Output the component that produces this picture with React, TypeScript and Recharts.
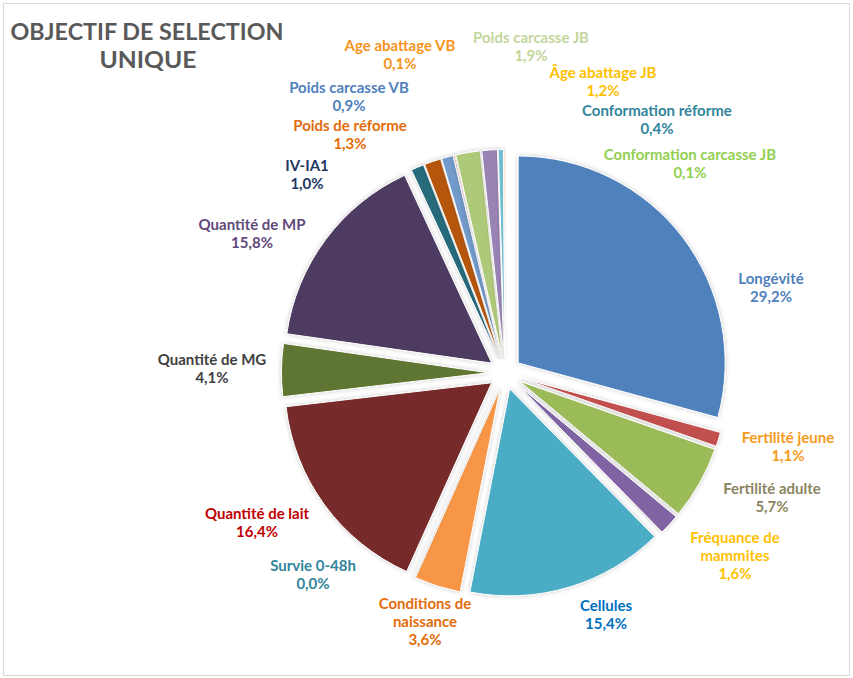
import React from 'react';
import { PieChart, Pie, Cell, Sector } from 'recharts';

// slices, clockwise from 12 o'clock
const categories = [
  'Longévité', 'Fertilité jeune', 'Fertilité adulte', 'Fréquance de mammites', 'Cellules',
  'Conditions de naissance', 'Survie 0-48h', 'Quantité de lait', 'Quantité de MG', 'Quantité de MP',
  'IV-IA1', 'Poids de réforme', 'Poids carcasse VB', 'Age abattage VB', 'Poids carcasse JB',
  'Âge abattage JB', 'Conformation réforme', 'Conformation carcasse JB',
];
const shares = [29.2, 1.1, 5.7, 1.6, 15.4, 3.6, 0.04, 16.4, 4.1, 15.8, 1.0, 1.3, 0.9, 0.1, 1.9, 1.2, 0.4, 0.1];

const sliceColors = [
  '#4f81bd', '#c0504d', '#9bbb59', '#8064a2', '#4bacc6', '#f79646',
  '#2c4d75', '#772c2a', '#5f7530', '#4d3b62', '#276a7c', '#b65708',
  '#729aca', '#cd7371', '#afc97a', '#9983b5', '#6fbdd1', '#f9ab6b',
];
const labelColors = [
  '#4f81bd', '#f59a1c', '#8a8560', '#ffc000', '#0070c0', '#e46c0a',
  '#31859c', '#c00000', '#404040', '#5f497a', '#1f3864', '#e46c0a',
  '#4f81bd', '#f7941d', '#c3d69b', '#ffc000', '#31859c', '#92d050',
];

// label text wrapping
const wrapped: Record<string, string[]> = {
  'Fréquance de mammites': ['Fréquance de', 'mammites'],
  'Conditions de naissance': ['Conditions de', 'naissance'],
};

// label anchor, relative to pie centre
const labelOffsets: [number, number][] = [
  [266, -94], [283, 65], [267, 116], [230, 165], [101, 233],
  [-80, 231], [-192, 193], [-248, 141], [-293, -13], [-253, -148],
  [-198, -207], [-155, -247], [-156, -285], [-105, -327], [26, -335],
  [98, -300], [152, -262], [185, -218],
];

const data = categories.map((name, i) => ({ name, value: shares[i] }));

const EXPLODE = 0.08;
const FONT = 'Lato, "Open Sans", sans-serif';

const fmt = (v: number) => v.toFixed(1).replace('.', ',') + '%';

const ExplodedSector = (props: any) => {
  const { cx, cy, midAngle, outerRadius } = props;
  const rad = (-midAngle * Math.PI) / 180;
  const d = outerRadius * EXPLODE;
  return (
    <Sector
      {...props}
      cx={cx + d * Math.cos(rad)}
      cy={cy + d * Math.sin(rad)}
      filter="url(#softShadow)"
    />
  );
};

const renderLabel = (p: any) => {
  const { cx, cy, index } = p;
  const [dx, dy] = labelOffsets[index];
  const name = categories[index];
  const lines = [...(wrapped[name] || [name]), fmt(shares[index])];
  const x = cx + dx;
  return (
    <text
      key={name}
      x={x}
      y={cy + dy + 5}
      textAnchor="middle"
      fill={labelColors[index]}
      fontFamily={FONT}
      fontWeight={700}
      fontSize={15}
    >
      {lines.map((l, i) => (
        <tspan key={i} x={x} dy={i === 0 ? 0 : 18}>{l}</tspan>
      ))}
    </text>
  );
};

export default function App() {
  return (
    <div style={{ position: 'absolute', left: 0, top: 0, width: 853, height: 678, background: '#fff' }}>
      <div style={{ position: 'absolute', left: 3, top: 3, width: 845, height: 671, border: '1px solid #d9d9d9' }} />
      <svg width={853} height={678} style={{ position: 'absolute', left: 0, top: 0 }}>
        <defs>
          <filter id="softShadow" x="-20%" y="-20%" width="140%" height="140%">
            <feDropShadow dx="0" dy="0" stdDeviation="2" floodColor="#000" floodOpacity="0.22" />
          </filter>
        </defs>
        <text x={147} y={40} textAnchor="middle" fill="#595959" fontFamily={FONT} fontWeight={700} fontSize={23}
          textLength={273} lengthAdjust="spacingAndGlyphs">OBJECTIF DE SELECTION</text>
        <text x={148} y={68} textAnchor="middle" fill="#595959" fontFamily={FONT} fontWeight={700} fontSize={23}
          textLength={97} lengthAdjust="spacingAndGlyphs">UNIQUE</text>
      </svg>
      <div style={{ position: 'absolute', left: 0, top: 0 }}>
        <PieChart width={853} height={678}>
          <Pie
            data={data}
            dataKey="value"
            nameKey="name"
            cx={500}
            cy={368}
            outerRadius={207}
            startAngle={90}
            endAngle={-270}
            stroke="#fff"
            strokeWidth={1}
            shape={ExplodedSector}
            label={renderLabel}
            labelLine={false}
            isAnimationActive={false}
          >
            {data.map((d, i) => (
              <Cell key={d.name} fill={sliceColors[i]} />
            ))}
          </Pie>
        </PieChart>
      </div>
    </div>
  );
}
